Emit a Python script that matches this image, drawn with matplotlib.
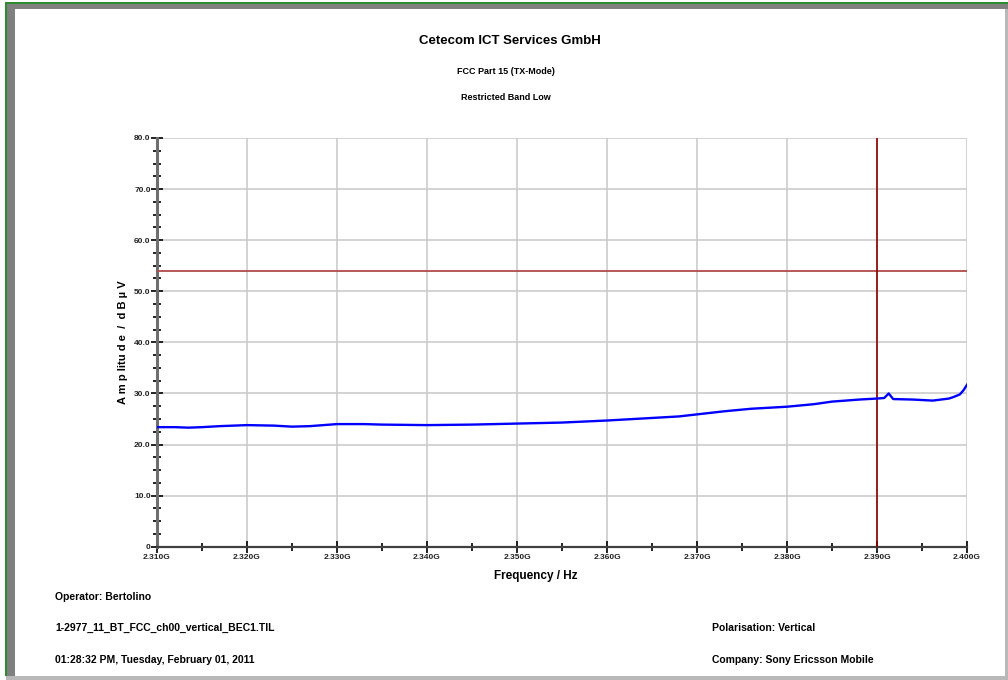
import numpy as np
import matplotlib
matplotlib.use("Agg")
import matplotlib.pyplot as plt
from matplotlib.patches import Rectangle
from matplotlib.ticker import MultipleLocator, FuncFormatter

freq_ghz = [2.3100, 2.3120, 2.3135, 2.3150, 2.3170, 2.3200, 2.3230, 2.3250, 2.3270,
            2.3300, 2.3330, 2.3350, 2.3400, 2.3450, 2.3500, 2.3550, 2.3600,
            2.3650, 2.3680, 2.3700, 2.3730, 2.3760, 2.3800, 2.3830, 2.3850,
            2.3880, 2.3900, 2.3908, 2.3913, 2.3918, 2.3940, 2.3962, 2.3980,
            2.3985, 2.3992, 2.3996, 2.4000]
level_dbuv = [23.4, 23.4, 23.3, 23.4, 23.6, 23.8, 23.7, 23.5, 23.6,
              24.0, 24.0, 23.9, 23.8, 23.9, 24.1, 24.3, 24.7,
              25.2, 25.5, 25.9, 26.5, 27.0, 27.4, 27.9, 28.4,
              28.8, 29.0, 29.1, 30.0, 28.9, 28.8, 28.6, 29.0,
              29.3, 29.8, 30.6, 31.7]

limit_dbuv = 54.0
marker_ghz = 2.390

title = "Cetecom ICT Services GmbH"
subtitle1 = "FCC Part 15 (TX-Mode)"
subtitle2 = "Restricted Band Low"
footer_left = ["Operator: Bertolino",
               "1-2977_11_BT_FCC_ch00_vertical_BEC1.TIL",
               "01:28:32 PM, Tuesday, February 01, 2011"]
footer_right = ["Polarisation: Vertical", "Company: Sony Ericsson Mobile"]

W, H = 1008, 680
plt.rcParams["font.family"] = ["Liberation Sans", "DejaVu Sans"]


def fx(px):
    return px / W


def fy(py):
    return 1 - py / H


def band(x0, y0, x1, y1, color, z=0):
    # rectangle given in pixel coords (top-left origin)
    fig.patches.append(Rectangle((fx(x0), fy(y1)), (x1 - x0) / W, (y1 - y0) / H,
                                 transform=fig.transFigure, facecolor=color,
                                 edgecolor="none", zorder=z))


fig = plt.figure(figsize=(W / 100, H / 100), dpi=100)
fig.patch.set_facecolor("white")

# window frame around the report
band(6, 3, W, 9, "#808080")
band(6, 3, 15, H - 4, "#808080")
band(5, 2, W, 3.5, "#2e8b2e", 1)
band(5, 2, 6.5, H - 4, "#2e8b2e", 1)
band(1005, 9, W, H, "#b8b8b8")
band(6, H - 4, W, H, "#b8b8b8")

ax = fig.add_axes([fx(157), fy(546.7), fx(967) - fx(157), (546.7 - 138) / H])
ax.set_xlim(2.310, 2.400)
ax.set_ylim(0, 80)

ax.plot(freq_ghz, level_dbuv, color="#0000ff", lw=1.7, zorder=4)
ax.axhline(limit_dbuv, color="#b04a4a", lw=1.3, zorder=3)
ax.axvline(marker_ghz, color="#8b0000", lw=1.2, zorder=3)

ax.xaxis.set_major_locator(MultipleLocator(0.01))
ax.xaxis.set_minor_locator(MultipleLocator(0.005))
ax.yaxis.set_major_locator(MultipleLocator(10))
ax.yaxis.set_minor_locator(MultipleLocator(2.5))
ax.xaxis.set_major_formatter(FuncFormatter(lambda v, p: f"{v:.3f}G"))
ax.yaxis.set_major_formatter(FuncFormatter(lambda v, p: "0" if abs(v) < 1e-9 else f"{v:.1f}"))

ax.grid(True, which="major", color="#cccccc", lw=1.2)
ax.set_axisbelow(True)
for s in ["top", "right"]:
    ax.spines[s].set_visible(False)
ax.spines["left"].set_color("#6e6e6e")
ax.spines["left"].set_linewidth(2.2)
ax.spines["bottom"].set_color("#404040")
ax.spines["bottom"].set_linewidth(1.6)

ax.tick_params(which="major", direction="inout", length=9, width=1.2, color="black",
               labelsize=6, pad=0)
ax.tick_params(which="minor", direction="inout", length=6, width=1.2, color="black")
ax.tick_params(axis="x", which="major", pad=1)
for lab in ax.get_xticklabels() + ax.get_yticklabels():
    lab.set_fontweight("bold")
    lab.set_color("#222222")

fig.text(fx(123), fy(342), "A m p litu d e  /  d B µ V", rotation=90, ha="center",
         va="center", fontsize=8, fontweight="bold")
fig.text(fx(536), fy(576), "Frequency / Hz", ha="center", va="center",
         fontsize=8.5, fontweight="bold")

fig.text(fx(510), fy(41), title, ha="center", va="center", fontsize=9.5, fontweight="bold")
fig.text(fx(506), fy(72), subtitle1, ha="center", va="center", fontsize=6.5, fontweight="bold")
fig.text(fx(506), fy(98), subtitle2, ha="center", va="center", fontsize=6.5, fontweight="bold")

for py, txt in zip([597, 628, 660], footer_left):
    fig.text(fx(55), fy(py), txt, ha="left", va="center", fontsize=7.5, fontweight="bold")
for py, txt in zip([628, 660], footer_right):
    fig.text(fx(712), fy(py), txt, ha="left", va="center", fontsize=7.5, fontweight="bold")

fig.savefig("out.png", dpi=100, facecolor="white")
